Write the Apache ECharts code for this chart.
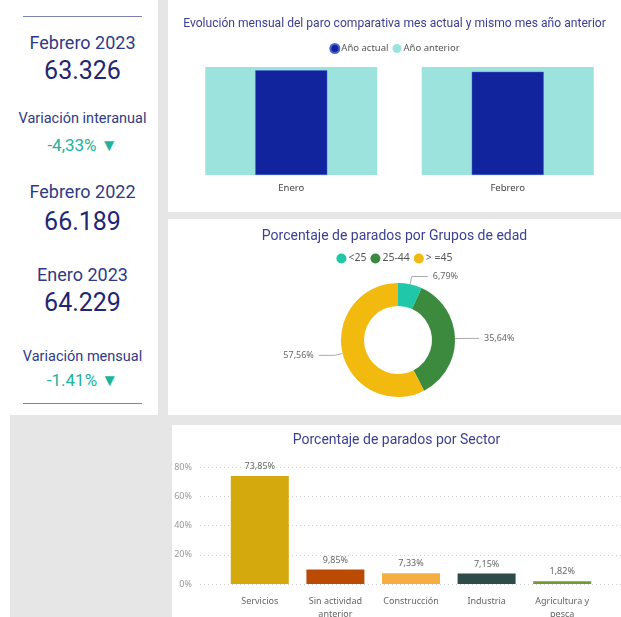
<!DOCTYPE html>
<html lang="es">
<head>
<meta charset="UTF-8">
<title>Paro registrado - Febrero 2023</title>
<script src="https://cdn.jsdelivr.net/npm/echarts@6/dist/echarts.min.js"></script>
<style>
  html, body { margin: 0; padding: 0; background: #fff; }
  #page { position: relative; width: 621px; height: 617px; overflow: hidden; font-family: Roboto, "Noto Sans", sans-serif; }
  .bg { position: absolute; left: 10px; top: 0; width: 611px; height: 617px; background: #e6e6e6; }
  .panel { position: absolute; background: #fff; }
  .kpi { position: absolute; left: 0; width: 165px; text-align: center; white-space: nowrap; }
  .lbl { color: #2f3a86; font-size: 18px; }
  .num { color: #1f2774; font-size: 25px; }
  .sub { color: #2f3a86; font-size: 14.5px; }
  .var { color: #20b39b; font-size: 17px; }
  .rule { position: absolute; left: 23px; width: 119px; height: 0; border-top: 1.5px solid #7d82b4; }
  .chart { position: absolute; }
</style>
</head>
<body>
<div id="page">
  <div class="bg"></div>
  <div class="panel" style="left:0;top:0;width:158px;height:415px;"></div>
  <div class="panel" style="left:168px;top:0;width:453px;height:212px;"></div>
  <div class="panel" style="left:168px;top:219px;width:453px;height:196px;"></div>
  <div class="panel" style="left:172px;top:425px;width:449px;height:192px;"></div>

  <div id="kpis"></div>

  <div id="evolucion" class="chart" style="left:168px;top:0;width:453px;height:212px;"></div>
  <div id="edad" class="chart" style="left:168px;top:219px;width:453px;height:196px;"></div>
  <div id="sector" class="chart" style="left:172px;top:425px;width:449px;height:192px;"></div>
</div>
<script>
// --- datos ---
var meses = ['Enero', 'Febrero'];
var anioActual = [64229, 63326];
var anioAnterior = [66250, 66189];

var gruposEdad = ['<25', '25-44', '> =45'];
var pctEdad = [6.79, 35.64, 57.56];

var sectores = ['Servicios', 'Sin actividad\nanterior', 'Construcción', 'Industria', 'Agricultura y\npesca'];
var pctSector = [73.85, 9.85, 7.33, 7.15, 1.82];

// tarjetas de la izquierda: [texto, clase, centro y]
var tarjetas = [
  ['Febrero 2023', 'lbl', 43],
  ['63.326', 'num', 71],
  ['Variación interanual', 'sub', 118],
  ['-4,33% ▼', 'var', 145],
  ['Febrero 2022', 'lbl', 192],
  ['66.189', 'num', 222],
  ['Enero 2023', 'lbl', 275],
  ['64.229', 'num', 303],
  ['Variación mensual', 'sub', 356],
  ['-1.41% ▼', 'var', 380]
];

var tam = { lbl: 18, num: 25, sub: 14.5, var: 17 };
var kpis = document.getElementById('kpis');
tarjetas.forEach(function (t) {
  var d = document.createElement('div');
  var lh = Math.round(tam[t[1]] * 1.2);
  d.className = 'kpi ' + t[1];
  d.style.top = (t[2] - lh / 2) + 'px';
  d.style.lineHeight = lh + 'px';
  d.textContent = t[0];
  kpis.appendChild(d);
});
[16, 403].forEach(function (y) {
  var r = document.createElement('div');
  r.className = 'rule';
  r.style.top = y + 'px';
  kpis.appendChild(r);
});

var tituloStyle = { color: '#3b3f91', fontSize: 14, fontWeight: 'normal', fontFamily: 'Roboto' };
var coma = function (v) { return v.toFixed(2).replace('.', ',') + '%'; };

// --- evolución mensual ---
var c1 = echarts.init(document.getElementById('evolucion'));
c1.setOption({
  animation: false,
  title: { text: 'Evolución mensual del paro comparativa mes actual y mismo mes año anterior', left: 'center', top: 13, textStyle: { color: '#3b3f91', fontSize: 12.1, fontWeight: 'normal', fontFamily: 'Roboto' } },
  legend: {
    top: 38, left: 'center', icon: 'circle', itemWidth: 9, itemHeight: 9, itemGap: 4,
    textStyle: { color: '#555', fontSize: 9.5, fontFamily: 'Noto Sans', padding: [0, 0, 0, -3] },
    data: ['Año actual', 'Año anterior']
  },
  grid: { left: 15, right: 5, top: 67, bottom: 37, outerBoundsMode: 'none' },
  xAxis: [
    { type: 'category', data: meses, axisLine: { show: false }, axisTick: { show: false },
      axisLabel: { color: '#444', fontSize: 9.5, fontFamily: 'Noto Sans', margin: 8 } },
    { type: 'category', data: meses, show: false }
  ],
  yAxis: { type: 'value', min: 0, max: 'dataMax', show: false },
  series: [
    { name: 'Año anterior', type: 'bar', xAxisIndex: 1, data: anioAnterior, barWidth: 172, itemStyle: { color: '#9be3dc' } },
    { name: 'Año actual', type: 'bar', xAxisIndex: 0, data: anioActual, barWidth: 72, itemStyle: { color: '#12239e', borderColor: '#4a63d8', borderWidth: 0.5 } }
  ]
});

// --- grupos de edad ---
var c2 = echarts.init(document.getElementById('edad'));
c2.setOption({
  animation: false,
  title: { text: 'Porcentaje de parados por Grupos de edad', left: 'center', top: 5, textStyle: tituloStyle },
  legend: {
    top: 29, left: 'center', icon: 'circle', itemWidth: 10, itemHeight: 10, itemGap: 4,
    textStyle: { color: '#555', fontSize: 10.5, fontFamily: 'Noto Sans', padding: [0, 0, 0, -3] }
  },
  color: ['#20c7a8', '#3b8a3e', '#f2b90f'],
  series: [{
    type: 'pie',
    center: [230, 121],
    radius: [34, 57],
    startAngle: 90,
    data: gruposEdad.map(function (g, i) { return { name: g, value: pctEdad[i] }; }),
    label: { color: '#666', fontSize: 9, fontFamily: 'Noto Sans', formatter: function (p) { return coma(p.value); } },
    labelLine: { length: 8, length2: 16, lineStyle: { color: '#aaa', width: 1 } }
  }]
});

// --- sectores ---
var c3 = echarts.init(document.getElementById('sector'));
c3.setOption({
  animation: false,
  title: { text: 'Porcentaje de parados por Sector', left: 'center', top: 3, textStyle: tituloStyle },
  grid: [
    { left: 50, width: 378, top: 42, height: 117, outerBoundsMode: 'none' },
    { left: 28, right: 0, top: 42, height: 117, outerBoundsMode: 'none' }
  ],
  xAxis: [
    { type: 'category', gridIndex: 0, data: sectores, axisLine: { show: false }, axisTick: { show: false },
      axisLabel: { color: '#666', fontSize: 9, fontFamily: 'Noto Sans', margin: 11, lineHeight: 13, interval: 0 } },
    { type: 'category', gridIndex: 1, data: [''], show: false }
  ],
  yAxis: [
    { type: 'value', gridIndex: 0, min: 0, max: 80, interval: 20, show: false },
    { type: 'value', gridIndex: 1, min: 0, max: 80, interval: 20,
      axisLabel: { color: '#999', fontSize: 9, fontFamily: 'Noto Sans', margin: 8, formatter: '{value}%' },
      splitLine: { lineStyle: { color: '#cfcfcf', type: [1, 3], width: 1 } } }
  ],
  series: [{
    type: 'bar', xAxisIndex: 0, yAxisIndex: 0, data: pctSector.map(function (v, i) {
      return { value: v, itemStyle: { color: ['#d4a90e', '#bb4b02', '#f4ae42', '#2d4b48', '#6e9a33'][i] } };
    }),
    barWidth: 58,
    label: { show: true, position: 'top', distance: 5, color: '#666', fontSize: 9, fontFamily: 'Noto Sans', formatter: function (p) { return coma(p.value); } }
  }]
});
</script>
</body>
</html>
